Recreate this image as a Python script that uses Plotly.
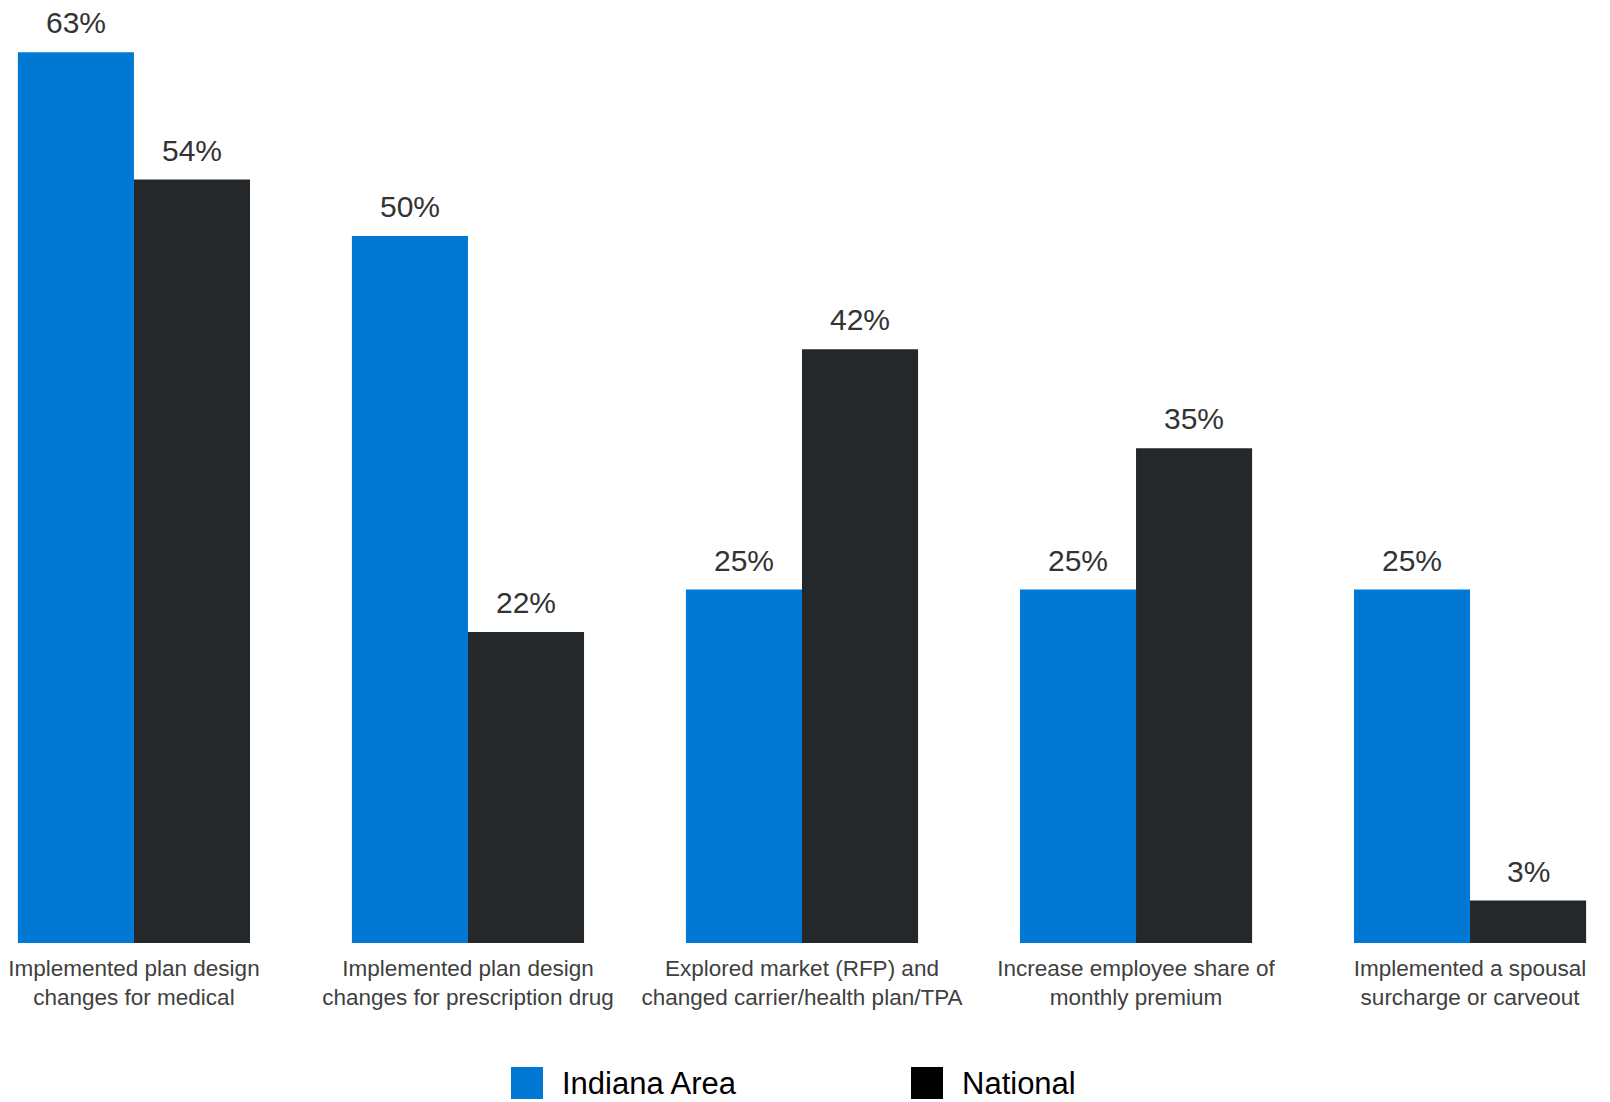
import plotly.graph_objects as go

# Survey responses: cost-management actions taken by employers
categories = [
    "Implemented plan design<br>changes for medical",
    "Implemented plan design<br>changes for prescription drug",
    "Explored market (RFP) and<br>changed carrier/health plan/TPA",
    "Increase employee share of<br>monthly premium",
    "Implemented a spousal<br>surcharge or carveout",
]
indiana_area = [63, 50, 25, 25, 25]
national = [54, 22, 42, 35, 3]

series_names = ["Indiana Area", "National"]
bar_colors = ["#0078D4", "#25282B"]
legend_colors = ["#0078D4", "#000000"]

FONT = "Arial, Liberation Sans, sans-serif"
W, H = 1610, 1102
PLOT_BOTTOM = 159
BARGAP = 0.305
X_RANGE = [-0.401, 4.419]
Y_RANGE = [0, 66.7]

fig = go.Figure()
for name, vals, col in zip(series_names, [indiana_area, national], bar_colors):
    fig.add_trace(go.Bar(
        name=name, x=categories, y=vals,
        marker=dict(color=col, line=dict(width=0)),
        showlegend=False,
    ))

# value labels above each bar
px_per_cat = W / (X_RANGE[1] - X_RANGE[0])
bar_w = (1 - BARGAP) / 2 * px_per_cat
annotations = []
for k, vals in enumerate([indiana_area, national]):
    shift = (k - 0.5) * bar_w
    for cat, v in zip(categories, vals):
        annotations.append(dict(
            x=cat, y=v, xref="x", yref="y", text=f"{v}%",
            showarrow=False, yanchor="bottom", xanchor="center",
            xshift=shift, yshift=11,
            font=dict(family=FONT, size=30, color="#333333"),
        ))

# legend drawn as swatches + labels below the plot
shapes = []
legend_x = [511, 911]
plot_h = H - PLOT_BOTTOM
legend_y = (plot_h - 1083) / plot_h
for name, col, lx in zip(series_names, legend_colors, legend_x):
    shapes.append(dict(
        type="rect", xref="paper", yref="paper",
        xsizemode="pixel", ysizemode="pixel",
        xanchor=lx / W, yanchor=legend_y,
        x0=0, x1=32, y0=-16, y1=16,
        fillcolor=col, line=dict(width=0),
    ))
    annotations.append(dict(
        x=(lx + 49) / W, y=legend_y,
        xref="paper", yref="paper", xanchor="left", yanchor="middle",
        text=name, showarrow=False,
        font=dict(family=FONT, size=31, color="#000000"),
    ))

fig.update_layout(
    width=W, height=H,
    margin=dict(l=0, r=0, t=0, b=PLOT_BOTTOM, pad=0),
    paper_bgcolor="white", plot_bgcolor="white",
    barmode="group", bargap=BARGAP, bargroupgap=0,
    annotations=annotations, shapes=shapes,
    xaxis=dict(
        range=X_RANGE, showgrid=False, zeroline=False, showline=False,
        ticks="", tickfont=dict(family=FONT, size=22.5, color="#404040"),
        ticklabelstandoff=9,
    ),
    yaxis=dict(
        range=Y_RANGE, showgrid=False, zeroline=False, showline=False,
        showticklabels=False, ticks="",
    ),
)

fig.write_html("out.html")
